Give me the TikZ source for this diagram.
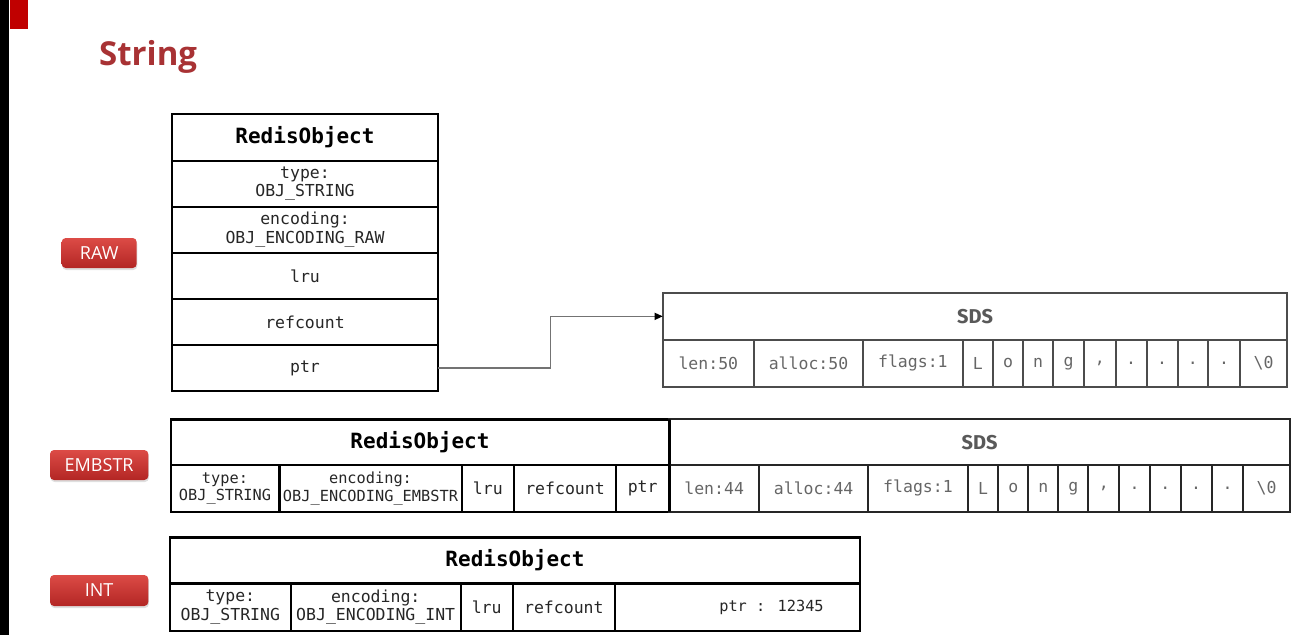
\documentclass[tikz,border=0pt]{standalone}
\usepackage{fontspec}
\setmainfont{Open Sans}
\newfontfamily\monofont{DejaVu Sans Mono}
\newfontfamily\sdsfont{Fira Sans}
\usetikzlibrary{arrows.meta,shadows}
\definecolor{titlered}{HTML}{A83234}
\definecolor{blockred}{HTML}{C00000}
\definecolor{badgetop}{HTML}{DC4B46}
\definecolor{badgebot}{HTML}{B32624}
\newcommand\cellat[7]{%
  \node[#1, minimum width={(#5)-(#3)}, minimum height={(#6)-(#4)}] (#2)
    at ({((#3)+(#5))/2},{((#4)+(#6))/2}) {#7};}
\begin{document}
\begin{tikzpicture}[x=1pt,y=-1pt,
  obj/.style={draw=black, line width=2.4pt, inner sep=0pt, outer sep=0pt,
    align=center, text=black!85, font=\monofont\fontsize{16.5}{18.5}\selectfont},
  objhead/.style={obj, text=black, font=\monofont\bfseries\fontsize{21}{24}\selectfont},
  objsmall/.style={obj, font=\monofont\fontsize{15.3}{17.5}\selectfont},
  sds/.style={draw=black!70, line width=2pt, inner sep=0pt, outer sep=0pt,
    align=center, text=black!60, font=\monofont\fontsize{16.5}{18}\selectfont},
  sdsdark/.style={sds, draw=black!85},
  sdshead/.style={sds, text=black!65, font=\sdsfont\bfseries\fontsize{20}{24}\selectfont},
  sdsheaddark/.style={sdshead, draw=black!85},
  badge/.style={rounded corners=4pt, top color=badgetop, bottom color=badgebot,
    draw=none, text=white, inner sep=0pt, font=\fontsize{18}{20}\selectfont,
    drop shadow={opacity=0.25, shadow xshift=0.6pt, shadow yshift=-2pt}},
  link/.style={line width=1.2pt, draw=black!55,
    -{Triangle[length=8pt,width=7pt,color=black]}}
]
\useasboundingbox (0,0) rectangle (1315,635);
\fill[black] (0,0) rectangle (9,635);
\fill[blockred] (10,0) rectangle (28,29);

\node[anchor=base west, inner sep=0pt, text=titlered,
  font=\bfseries\fontsize{33}{36}\selectfont] (title) at (99,65) {String};

% badges
\cellat{badge}{rawbadge}{61.7}{238}{136.7}{268}{RAW}
\cellat{badge}{embbadge}{50}{450}{148.3}{480}{EMBSTR}
\cellat{badge}{intbadge}{50}{575}{148.3}{606}{INT}

% RAW RedisObject
\cellat{objhead}{rawhead}{172}{114}{438}{160.7}{RedisObject}
\cellat{obj}{rawtype}{172}{160.7}{438}{206.7}{type:\\OBJ\_STRING}
\cellat{obj}{rawenc}{172}{206.7}{438}{253}{encoding:\\OBJ\_ENCODING\_RAW}
\cellat{obj}{rawlru}{172}{253}{438}{299}{lru}
\cellat{obj}{rawref}{172}{299}{438}{345}{refcount}
\cellat{obj}{rawptr}{172}{345}{438}{391}{ptr}

% RAW SDS
\cellat{sdshead}{rsdshead}{662.7}{292.7}{1287.3}{340}{SDS}
\foreach \xa/\xb/\txt [count=\i] in {662.7/754/{len:50}, 754/863/{alloc:50},
   863/962.7/{flags:1}, 962.7/993/L, 993/1023/o, 1023/1053/n, 1053/1084/g,
   1084/1115.7/{,}, 1115.7/1146.7/., 1146.7/1177.7/., 1177.7/1208/.,
   1208/1240/., 1240/1287.3/{\textbackslash0}}
  {\cellat{sds}{rs\i}{\xa}{340}{\xb}{386.7}{\txt}}

\coordinate (bend) at (550.7,368);
\draw[link] (rawptr.east) -- (bend) |- (rsdshead.west);

% EMBSTR
\cellat{objhead}{ehead}{170.7}{419.3}{669.3}{465}{RedisObject}
\cellat{objsmall}{etype}{170.7}{465}{279.3}{511.7}{type:\\OBJ\_STRING}
\cellat{objsmall}{eenc}{279.3}{465}{461.7}{511.7}{encoding:\\OBJ\_ENCODING\_EMBSTR}
\cellat{obj}{elru}{461.7}{465}{514}{511.7}{lru}
\cellat{obj}{eref}{514}{465}{616}{511.7}{refcount}
\cellat{obj}{eptr}{616}{465}{669.3}{511.7}{ptr}
\cellat{sdsheaddark}{esdshead}{669.3}{419.3}{1290}{465}{SDS}
\foreach \xa/\xb/\txt [count=\i] in {669.3/759/{len:44}, 759/868.3/{alloc:44},
   868.3/967.7/{flags:1}, 967.7/998.3/L, 998.3/1028.3/o, 1028.3/1058.3/n,
   1058.3/1088.3/g, 1088.3/1119.3/{,}, 1119.3/1150/., 1150/1180.7/.,
   1180.7/1211.7/., 1211.7/1243.3/., 1243.3/1290/{\textbackslash0}}
  {\cellat{sdsdark}{es\i}{\xa}{465}{\xb}{511.7}{\txt}}
\draw[line width=2.4pt] (ehead.north east) -- (eptr.south east);

% INT
\cellat{objhead}{ihead}{170}{537.3}{860}{583.3}{RedisObject}
\cellat{obj}{itype}{170}{583.3}{290.7}{630.7}{type:\\OBJ\_STRING}
\cellat{obj}{ienc}{290.7}{583.3}{460.7}{630.7}{encoding:\\OBJ\_ENCODING\_INT}
\cellat{obj}{ilru}{460.7}{583.3}{512.7}{630.7}{lru}
\cellat{obj}{iref}{512.7}{583.3}{615}{630.7}{refcount}
\cellat{objsmall}{iptr}{615}{583.3}{860}{630.7}{\hspace*{68pt}ptr : 12345}
\end{tikzpicture}
\end{document}
